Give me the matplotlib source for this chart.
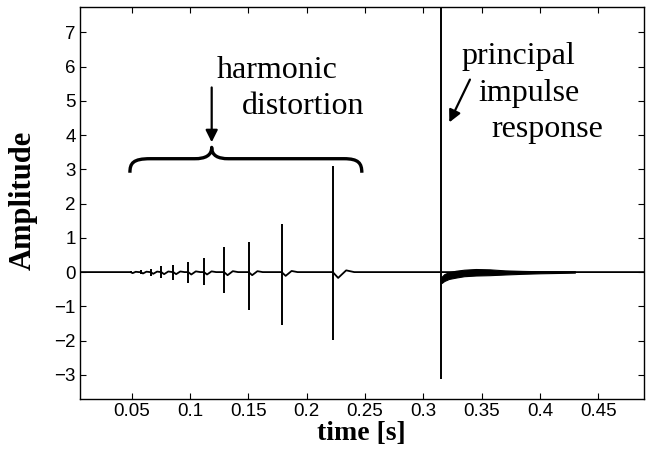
import matplotlib.pyplot as plt
from matplotlib.path import Path
from matplotlib.patches import PathPatch

# harmonic distortion spikes (time, positive peak, negative peak, ringing dip after)
harm_t = [0.049, 0.0577, 0.0663, 0.0754, 0.0857, 0.0985, 0.112, 0.1292, 0.1503, 0.1786, 0.2224]
harm_hi = [0.04, 0.06, 0.10, 0.18, 0.21, 0.30, 0.41, 0.74, 0.89, 1.41, 3.11]
harm_lo = [-0.04, -0.06, -0.12, -0.17, -0.22, -0.32, -0.37, -0.61, -1.10, -1.53, -1.98]
harm_dip = [-0.03, -0.04, -0.05, -0.06, -0.06, -0.07, -0.07, -0.09, -0.09, -0.11, -0.17]

# principal impulse
main_t = 0.3156
main_hi = 9.0
main_lo = -3.11

# noisy tail after the principal impulse (lower / upper envelope)
tail_t = [0.3156, 0.318, 0.322, 0.328, 0.335, 0.345, 0.357, 0.370, 0.385, 0.400, 0.416, 0.43]
tail_lo = [-0.32, -0.26, -0.20, -0.16, -0.12, -0.10, -0.09, -0.07, -0.05, -0.035, -0.025, -0.015]
tail_hi = [-0.14, -0.06, 0.0, 0.04, 0.07, 0.09, 0.08, 0.05, 0.035, 0.025, 0.02, 0.015]

x_ticks = [0.05, 0.1, 0.15, 0.2, 0.25, 0.3, 0.35, 0.4, 0.45]
x_labels = ['0.05', '0.1', '0.15', '0.2', '0.25', '0.3', '0.35', '0.4', '0.45']
y_ticks = [-3, -2, -1, 0, 1, 2, 3, 4, 5, 6, 7]
xlim = (0.0057, 0.4892)
ylim = (-3.69, 7.73)

fig = plt.figure(figsize=(6.53, 4.53), dpi=100)
ax = fig.add_axes([0.1225, 0.1203, 0.8637, 0.8636])

# baseline trace with the small ringing after each spike
bx, by = [xlim[0]], [0.0]
for t, d in zip(harm_t, harm_dip):
    dt = 0.0012 + 0.02 * abs(d)
    bx += [t, t + dt, t + 2.5 * dt, t + 4 * dt]
    by += [0.0, d, abs(d) * 0.3, 0.0]
bx += [main_t, tail_t[-1], xlim[1]]
by += [0.0, 0.0, 0.0]
ax.plot(bx, by, color='black', lw=1.3)

# spikes
ax.vlines(harm_t, harm_lo, harm_hi, color='black', lw=1.4)
ax.vlines([main_t], [main_lo], [main_hi], color='black', lw=1.4)

# tail band
ax.fill_between(tail_t, tail_lo, tail_hi, color='black', lw=0.8)
ax.plot(tail_t, [(a + b) / 2 for a, b in zip(tail_lo, tail_hi)], color='black', lw=1.2)

ax.set_xlim(*xlim)
ax.set_ylim(*ylim)
ax.set_xticks(x_ticks)
ax.set_xticklabels(x_labels)
ax.set_yticks(y_ticks)
ax.tick_params(direction='in', length=4, width=0.8, top=True, right=True,
               labelsize=13.5, colors='black')
ax.tick_params(axis='x', pad=3)
ax.tick_params(axis='y', pad=3)
for lab in ax.get_xticklabels() + ax.get_yticklabels():
    lab.set_fontfamily('Liberation Sans')
for s in ax.spines.values():
    s.set_linewidth(1.0)

ax.set_xlabel('time [s]', fontfamily='Liberation Serif', fontweight='bold', fontsize=20)
ax.set_ylabel('Amplitude', fontfamily='Liberation Serif', fontweight='bold', fontsize=22)
ax.xaxis.set_label_coords(0.498, -0.106)
ax.xaxis.label.set_va('baseline')
ax.yaxis.set_label_coords(-0.101, 0.507)
ax.yaxis.label.set_va('center')

# curly brace over the harmonics
bl, br, tip = 0.0485, 0.2473, 0.1186
ye, yf, yt = 2.90, 3.31, 3.64
verts = [(bl, ye), (bl, 3.18), (0.051, yf), (0.066, yf),
         (0.104, yf),
         (0.113, yf), (tip, 3.40), (tip, yt),
         (tip, 3.40), (0.124, yf), (0.133, yf),
         (0.232, yf),
         (0.2445, yf), (br, 3.18), (br, ye)]
codes = [Path.MOVETO, Path.CURVE4, Path.CURVE4, Path.CURVE4,
         Path.LINETO,
         Path.CURVE4, Path.CURVE4, Path.CURVE4,
         Path.CURVE4, Path.CURVE4, Path.CURVE4,
         Path.LINETO,
         Path.CURVE4, Path.CURVE4, Path.CURVE4]
ax.add_patch(PathPatch(Path(verts, codes), fill=False, lw=2.4, color='black',
                       capstyle='butt', joinstyle='round'))

arrow = dict(arrowstyle='-|>', color='black', lw=1.6, mutation_scale=18,
             shrinkA=0, shrinkB=0)
ax.annotate('', xy=(tip, 3.79), xytext=(tip, 5.39), arrowprops=arrow)
ax.annotate('', xy=(0.3223, 4.37), xytext=(0.340, 5.62), arrowprops=arrow)

txt = dict(fontfamily='Liberation Serif', fontsize=23, ha='left', va='baseline')
ax.text(0.1229, 5.68, 'harmonic', **txt)
ax.text(0.1443, 4.62, 'distortion', **txt)
ax.text(0.3329, 6.08, 'principal', **txt)
ax.text(0.3469, 5.00, 'impulse', **txt)
ax.text(0.3587, 3.93, 'response', **txt)

fig.savefig('out.png', dpi=100)
